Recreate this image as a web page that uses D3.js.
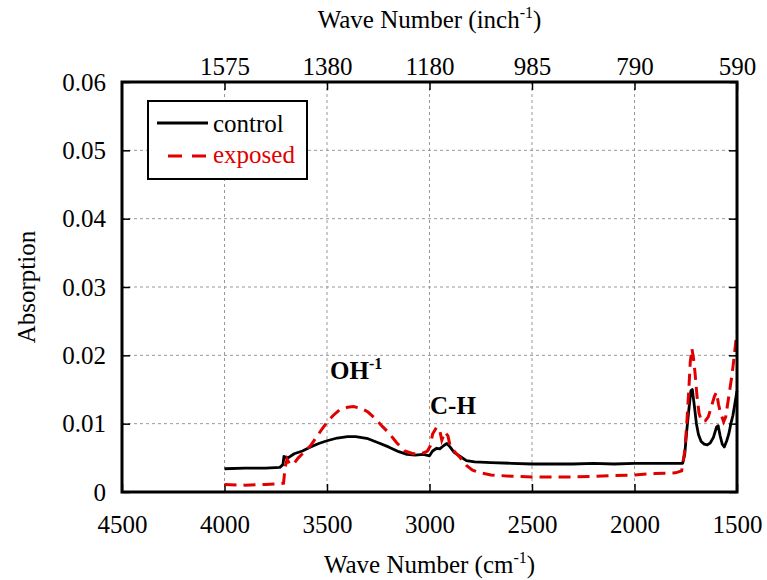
<!DOCTYPE html>
<html lang="en">
<head>
    <meta charset="UTF-8">
    <script src="https://d3js.org/d3.v7.min.js"></script>
    <title>Absorption spectrum</title>
    <style>
        body { margin: 0; background: #fff; }
        svg text { font-family: "Liberation Serif", "Times New Roman", serif; fill: #000; }
        .axis path { display: none; }
        .axis line { stroke: #000; stroke-width: 1.5px; }
        .grid line { stroke: #999; stroke-width: 1px; stroke-dasharray: 3,3; }
    </style>
</head>
<body>
<svg id="chart" width="767" height="580"></svg>
<script>
    // wave numbers (cm^-1) and absorption values
    const controlWn = [4000, 3900, 3800, 3730, 3715, 3710, 3690, 3660, 3620, 3580, 3540, 3500, 3450, 3400, 3360, 3300, 3250, 3200, 3150, 3110, 3070, 3030, 3000, 2985, 2965, 2950, 2930, 2915, 2900, 2880, 2850, 2820, 2780, 2700, 2600, 2500, 2400, 2300, 2200, 2100, 2000, 1900, 1800, 1765, 1755, 1745, 1735, 1725, 1718, 1708, 1698, 1688, 1675, 1660, 1645, 1630, 1615, 1600, 1592, 1582, 1572, 1562, 1550, 1540, 1530, 1520, 1510, 1500];
    const controlAbs = [0.0034, 0.0035, 0.0035, 0.0036, 0.0040, 0.0052, 0.0050, 0.0056, 0.0060, 0.0066, 0.0071, 0.0075, 0.0079, 0.0081, 0.0081, 0.0078, 0.0072, 0.0066, 0.0059, 0.0055, 0.0054, 0.0055, 0.0053, 0.0060, 0.0064, 0.0063, 0.0068, 0.0071, 0.0066, 0.0058, 0.0052, 0.0046, 0.0044, 0.0043, 0.0042, 0.0041, 0.0041, 0.0041, 0.0042, 0.0041, 0.0042, 0.0042, 0.0042, 0.0042, 0.0055, 0.0090, 0.0120, 0.0148, 0.0150, 0.0126, 0.0100, 0.0084, 0.0074, 0.0070, 0.0069, 0.0072, 0.0080, 0.0095, 0.0097, 0.0082, 0.0070, 0.0066, 0.0075, 0.0085, 0.0100, 0.0112, 0.0130, 0.0148];

    const exposedWn = [4000, 3900, 3800, 3730, 3712, 3705, 3695, 3680, 3660, 3640, 3610, 3580, 3550, 3520, 3500, 3470, 3440, 3400, 3370, 3330, 3300, 3260, 3230, 3200, 3160, 3120, 3080, 3040, 3010, 2995, 2985, 2965, 2950, 2940, 2925, 2910, 2900, 2875, 2850, 2820, 2790, 2750, 2700, 2600, 2500, 2400, 2300, 2200, 2100, 2000, 1900, 1800, 1770, 1755, 1745, 1735, 1728, 1720, 1712, 1705, 1695, 1685, 1672, 1655, 1640, 1625, 1610, 1600, 1590, 1580, 1565, 1555, 1545, 1535, 1525, 1515, 1505, 1500];
    const exposedAbs = [0.0011, 0.0010, 0.0011, 0.0012, 0.0013, 0.0035, 0.0048, 0.0040, 0.0042, 0.0050, 0.0059, 0.0068, 0.0081, 0.0094, 0.0102, 0.0112, 0.0120, 0.0124, 0.0125, 0.0122, 0.0117, 0.0106, 0.0096, 0.0087, 0.0072, 0.0060, 0.0056, 0.0056, 0.0060, 0.0068, 0.0085, 0.0095, 0.0090, 0.0076, 0.0088, 0.0082, 0.0068, 0.0058, 0.0050, 0.0039, 0.0032, 0.0028, 0.0025, 0.0023, 0.0022, 0.0022, 0.0022, 0.0023, 0.0024, 0.0025, 0.0027, 0.0028, 0.0031, 0.0060, 0.0100, 0.0150, 0.0190, 0.0210, 0.0195, 0.0175, 0.0140, 0.0115, 0.0103, 0.0104, 0.0110, 0.0125, 0.0140, 0.0146, 0.0128, 0.0115, 0.0103, 0.0110, 0.0130, 0.0150, 0.0170, 0.0195, 0.0222, 0.0233];

    const bottomTicks = [4500, 4000, 3500, 3000, 2500, 2000, 1500];
    const topTicks = [4000, 3500, 3000, 2500, 2000, 1500];
    const topLabels = ["1575", "1380", "1180", "985", "790", "590"];
    const yTicks = [0, 0.01, 0.02, 0.03, 0.04, 0.05, 0.06];
    const yLabels = ["0", "0.01", "0.02", "0.03", "0.04", "0.05", "0.06"];

    const m = { left: 122, right: 737, top: 82, bottom: 492 };
    const svg = d3.select("#chart");
    const serif = "Liberation Serif, Times New Roman, serif";

    const x = d3.scaleLinear().domain([4500, 1500]).range([m.left, m.right]);
    const y = d3.scaleLinear().domain([0, 0.06]).range([m.bottom, m.top]);

    // grid
    svg.append("g").attr("class", "grid")
        .selectAll("line").data([4000, 3500, 3000, 2500, 2000]).join("line")
        .attr("x1", d => x(d)).attr("x2", d => x(d)).attr("y1", m.top).attr("y2", m.bottom);
    svg.append("g").attr("class", "grid")
        .selectAll("line").data([0.01, 0.02, 0.03, 0.04, 0.05]).join("line")
        .attr("y1", d => y(d)).attr("y2", d => y(d)).attr("x1", m.left).attr("x2", m.right);

    // axes, ticks pointing inwards
    const fs = "25px";
    const styleAxis = g => g.attr("font-family", serif).attr("font-size", fs)
        .selectAll("text").attr("font-family", serif).attr("font-size", fs);

    svg.append("g").attr("class", "axis")
        .attr("transform", `translate(0,${m.bottom})`)
        .call(d3.axisBottom(x).tickValues(bottomTicks).tickFormat(d3.format("d")).tickSize(-8).tickPadding(23))
        .call(styleAxis);
    svg.append("g").attr("class", "axis")
        .attr("transform", `translate(0,${m.top})`)
        .call(d3.axisTop(x).tickValues(topTicks).tickFormat((d, i) => topLabels[i]).tickSize(-8).tickPadding(7))
        .call(styleAxis);
    svg.append("g").attr("class", "axis")
        .attr("transform", `translate(${m.left},0)`)
        .call(d3.axisLeft(y).tickValues(yTicks).tickFormat((d, i) => yLabels[i]).tickSize(-8).tickPadding(16))
        .call(styleAxis);
    svg.append("g").attr("class", "axis")
        .attr("transform", `translate(${m.right},0)`)
        .call(d3.axisRight(y).tickValues(yTicks).tickSize(-8).tickFormat(""));

    // curves
    const line = d3.line().x(d => x(d[0])).y(d => y(d[1]));
    svg.append("path")
        .datum(d3.zip(controlWn, controlAbs))
        .attr("d", line)
        .attr("fill", "none").attr("stroke", "#000").attr("stroke-width", 2.8)
        .attr("stroke-linejoin", "round");
    svg.append("path")
        .datum(d3.zip(exposedWn, exposedAbs))
        .attr("d", line)
        .attr("fill", "none").attr("stroke", "#e00000").attr("stroke-width", 3)
        .attr("stroke-dasharray", "12,7");

    // frame
    svg.append("rect")
        .attr("x", m.left).attr("y", m.top).attr("width", m.right - m.left).attr("height", m.bottom - m.top)
        .attr("fill", "none").attr("stroke", "#000").attr("stroke-width", 3);

    // legend
    const lg = svg.append("g").attr("font-family", serif);
    lg.append("rect").attr("x", 148).attr("y", 101).attr("width", 159).attr("height", 78)
        .attr("fill", "#fff").attr("stroke", "#000").attr("stroke-width", 2);
    lg.append("line").attr("x1", 157).attr("x2", 208).attr("y1", 123).attr("y2", 123)
        .attr("stroke", "#000").attr("stroke-width", 2.8);
    lg.append("text").attr("x", 213).attr("y", 132).attr("font-size", fs).text("control");
    lg.append("line").attr("x1", 168).attr("x2", 206).attr("y1", 156).attr("y2", 156)
        .attr("stroke", "#e00000").attr("stroke-width", 3).attr("stroke-dasharray", "14,10");
    lg.append("text").attr("x", 213).attr("y", 163).attr("font-size", fs)
        .style("fill", "#e00000").text("exposed");

    // annotations
    const oh = svg.append("text").attr("x", 330).attr("y", 379)
        .attr("font-size", fs).attr("font-weight", "bold");
    oh.append("tspan").text("OH");
    oh.append("tspan").attr("dy", -10).attr("font-size", "16px").text("-1");
    svg.append("text").attr("x", 430).attr("y", 414)
        .attr("font-size", fs).attr("font-weight", "bold").text("C-H");

    // axis titles
    const bt = svg.append("text").attr("x", (m.left + m.right) / 2).attr("y", 573)
        .attr("text-anchor", "middle").attr("font-size", fs);
    bt.append("tspan").text("Wave Number (cm");
    bt.append("tspan").attr("dy", -10).attr("font-size", "16px").text("-1");
    bt.append("tspan").attr("dy", 10).text(")");

    const tt = svg.append("text").attr("x", (m.left + m.right) / 2).attr("y", 28)
        .attr("text-anchor", "middle").attr("font-size", fs);
    tt.append("tspan").text("Wave Number (inch");
    tt.append("tspan").attr("dy", -10).attr("font-size", "16px").text("-1");
    tt.append("tspan").attr("dy", 10).text(")");

    svg.append("text")
        .attr("transform", `translate(35,${(m.top + m.bottom) / 2}) rotate(-90)`)
        .attr("text-anchor", "middle").attr("font-size", fs).text("Absorption");
</script>
</body>
</html>
